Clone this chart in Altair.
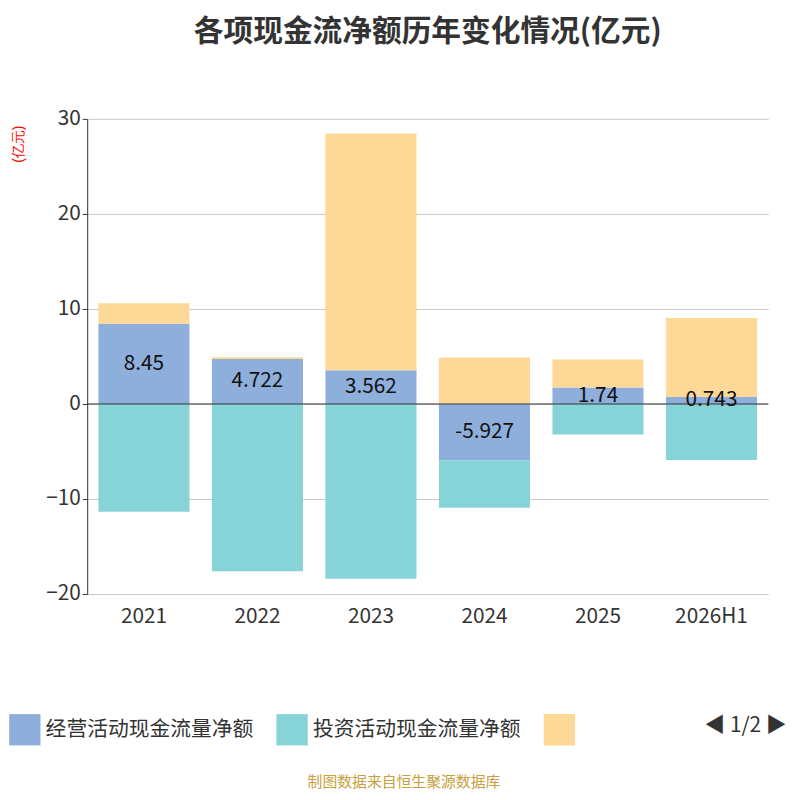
import altair as alt
import pandas as pd

years = ["2021", "2022", "2023", "2024", "2025", "2026H1"]
series = ["经营活动现金流量净额", "投资活动现金流量净额", "筹资活动现金流量净额"]
operating = [8.45, 4.722, 3.562, -5.927, 1.74, 0.743]
investing = [-11.35, -17.6, -18.4, -5.0, -3.2, -5.9]
financing = [2.15, 0.2, 24.9, 4.9, 2.95, 8.3]
colors = ["#8eaedb", "#86d4d8", "#fdd897"]

rows = []
for i, y in enumerate(years):
    for k, (s, vals) in enumerate(zip(series, [operating, investing, financing])):
        rows.append({"year": y, "series": s, "value": vals[i], "order": k})
df = pd.DataFrame(rows)
labels = pd.DataFrame({"year": years, "value": operating,
                       "mid": [v / 2 for v in operating],
                       "text": [str(v) for v in operating]})

font = "Noto Sans CJK SC"
x = alt.X("year:N", sort=years, title=None,
          axis=alt.Axis(labelAngle=0, labelFontSize=21, labelColor="#333", domain=False,
                        ticks=False, labelPadding=12, labelFont=font))

bars = alt.Chart(df).mark_bar(size=92).encode(
    x=x,
    y=alt.Y("value:Q", scale=alt.Scale(domain=[-20, 30]),
            axis=alt.Axis(values=[-20, -10, 0, 10, 20, 30], labelFontSize=21, labelColor="#333",
                          gridColor="#c8c8c8", domainColor="#333", tickColor="#333",
                          title="(亿元)", titleColor="red", titleFontSize=14,
                          titleFontWeight="normal", titleAngle=-90, titleY=25, titleX=-62,
                          titleAlign="center", labelFont=font)),
    color=alt.Color("series:N", sort=series, scale=alt.Scale(domain=series, range=colors),
                    legend=alt.Legend(orient="none", legendX=-80, legendY=600, direction="horizontal",
                                      title=None, symbolType="square",
                                      symbolSize=1000, labelFontSize=21, labelColor="#333",
                                      labelFont=font, labelLimit=300, columnPadding=22,
                                      labelExpr="datum.label == '筹资活动现金流量净额' ? '' : datum.label")),
    order=alt.Order("order:Q"),
)

zero = alt.Chart(pd.DataFrame({"v": [0]})).mark_rule(color="#333").encode(y="v:Q")

text = alt.Chart(labels).mark_text(fontSize=21, color="#111", font=font).encode(
    x=alt.X("year:N", sort=years), y="mid:Q", text="text:N")

pager = alt.Chart(pd.DataFrame({"t": ["◀ 1/2 ▶"]})).mark_text(
    fontSize=21, color="#333", font=font).encode(
    text="t:N", x=alt.value(665), y=alt.value(613))

footer = alt.Chart(pd.DataFrame({"t": ["制图数据来自恒生聚源数据库"]})).mark_text(
    fontSize=15, color="#c8a040", font=font).encode(
    text="t:N", x=alt.value(320), y=alt.value(670))

chart = (bars + zero + text + pager + footer).properties(
    width=688, height=480,
    padding={"left": 0, "top": 5, "right": 5, "bottom": 5},
    title=alt.TitleParams("各项现金流净额历年变化情况(亿元)", fontSize=30, font=font,
                          color="#333", fontWeight="bold", offset=62),
).configure_view(stroke=None)

chart.save("out.html", embed_options={"renderer": "svg", "actions": False})
